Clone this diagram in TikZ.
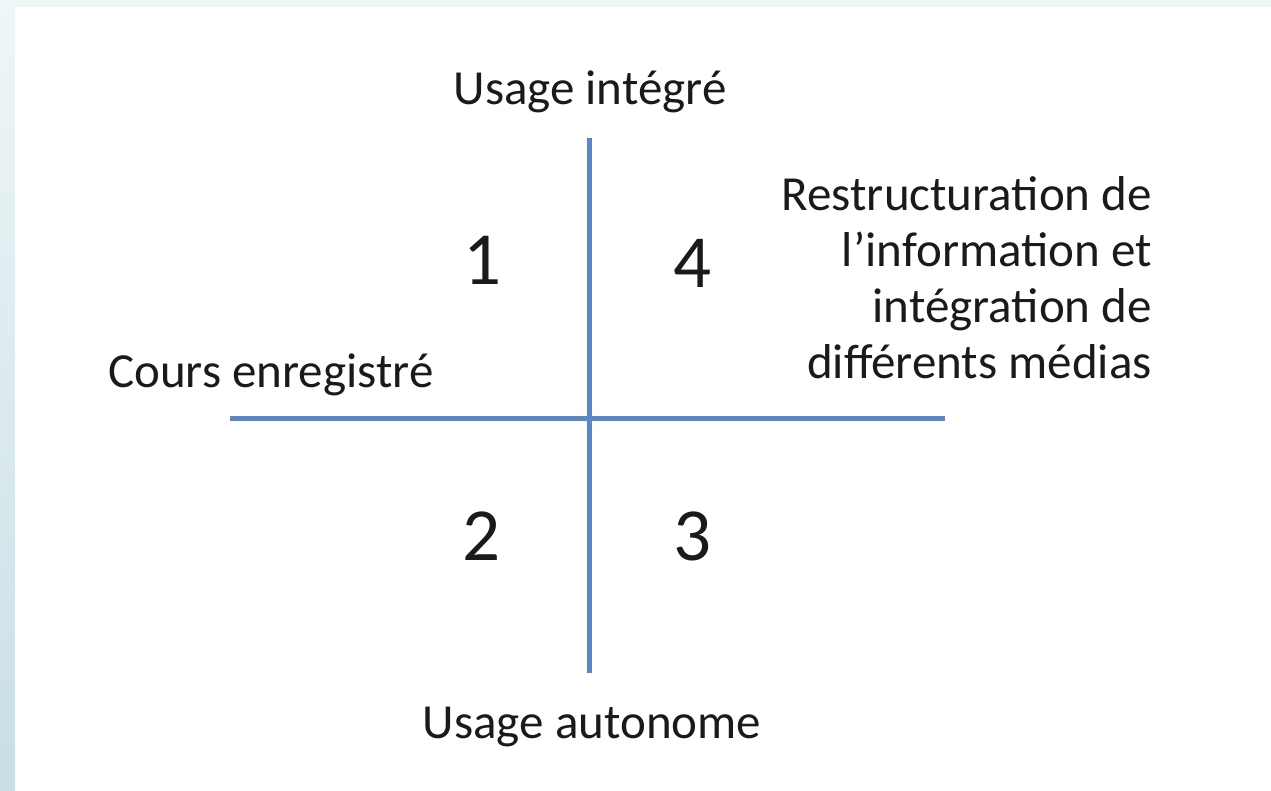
\documentclass[tikz,border=0pt]{standalone}
\usepackage{fontspec}
\setmainfont{Carlito}
\definecolor{axisblue}{HTML}{5A88C6}
\definecolor{txt}{HTML}{1A1A1A}
\definecolor{stripTop}{HTML}{EFF6F7}
\definecolor{stripBot}{HTML}{C8DFE6}
\definecolor{topbar}{HTML}{F0F5F6}
\tikzset{
  lbl/.style={font=\fontsize{49}{56}\selectfont, text=txt, inner sep=0pt},
  num/.style={font=\fontsize{75}{80}\selectfont, text=txt, inner sep=0pt},
  axisline/.style={draw=axisblue, line width=5pt}
}
\begin{document}
\begin{tikzpicture}[x=1pt,y=-1pt]
\useasboundingbox (0,0) rectangle (1271,791);
\shade[top color=stripTop, bottom color=stripBot] (0,0) rectangle (15,791);
\fill[topbar] (15,0) rectangle (1271,7);
\fill[white] (15,7) rectangle (1271,791);
% axes
\coordinate (vtop) at (589,138);
\coordinate (vbot) at (589,673);
\coordinate (hleft) at (230,418);
\coordinate (hright) at (945,418);
\draw[axisline] (vtop) -- (vbot);
\draw[axisline] (hleft) -- (hright);
% labels
\node[lbl, anchor=base] (top) at (590,105) {Usage intégré};
\node[lbl, anchor=base] (bottom) at (592,738) {Usage autonome};
\node[lbl, anchor=base west] (left) at (108,387) {Cours enregistré};
\node[lbl, anchor=base east, align=right] (right) at (1152,378)
  {Restructuration de\\l’information et\\intégration de\\différents médias};
% quadrant numbers
\node[num, anchor=base] (q1) at (482,285) {1};
\node[num, anchor=base] (q4) at (692,288) {4};
\node[num, anchor=base] (q2) at (481,560) {2};
\node[num, anchor=base] (q3) at (692,560) {3};
\end{tikzpicture}
\end{document}
